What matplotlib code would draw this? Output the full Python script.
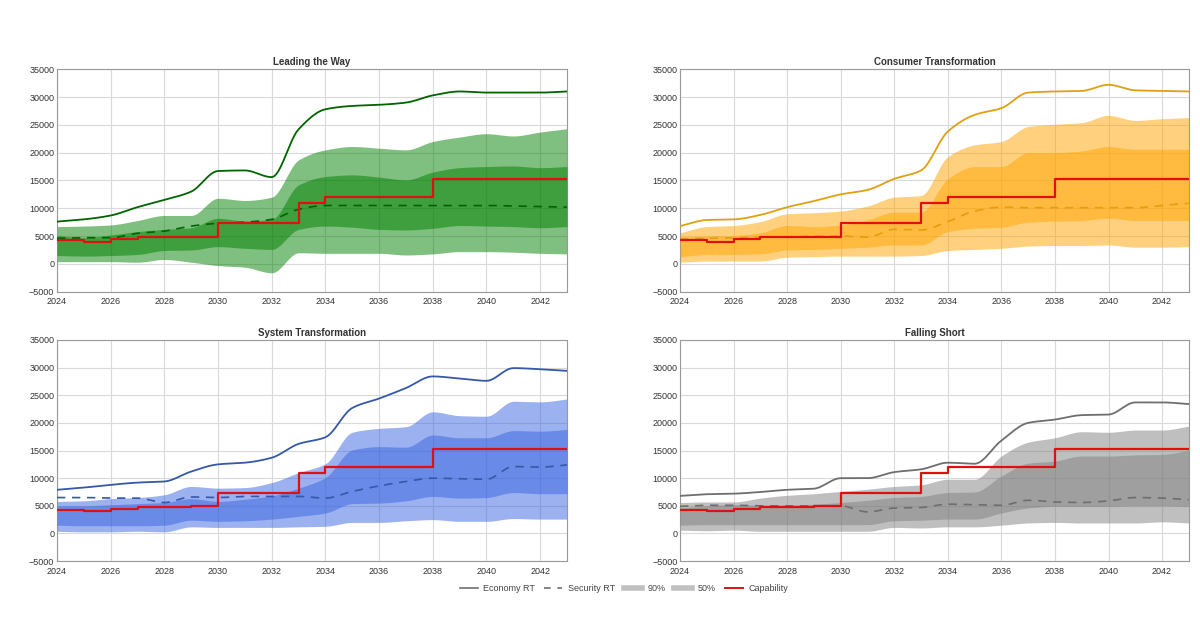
import numpy as np
import matplotlib
matplotlib.use("Agg")
import matplotlib.pyplot as plt
from matplotlib.lines import Line2D

plt.rcParams['font.family'] = ['Liberation Sans', 'DejaVu Sans']

years = list(range(2024, 2044))
capability = [4300, 4000, 4400, 4800, 4800, 4900, 7300, 7300, 7300, 11000,
              12000, 12000, 12000, 12000, 15300, 15300, 15300, 15300, 15300, 15300]

# Leading the Way
ltw_econ = [7600, 8000, 8700, 10200, 11500, 13000, 16700, 16800, 15600, 24200,
            27800, 28400, 28600, 29000, 30300, 31000, 30800, 30800, 30800, 31000]
ltw_sec = [4600, 4700, 4700, 5500, 5900, 6800, 7300, 7500, 8000, 9800,
           10500, 10500, 10500, 10500, 10500, 10500, 10500, 10400, 10300, 10200]
ltw_90_hi = [6700, 6800, 7000, 7800, 8700, 8700, 11800, 11400, 12000, 18700,
             20500, 21100, 20800, 20500, 22000, 22800, 23400, 23000, 23700, 24300]
ltw_90_lo = [400, 400, 400, 300, 800, 300, -300, -600, -1600, 2000,
             1900, 1900, 1900, 1600, 1800, 2200, 2200, 2100, 1900, 1800]
ltw_50_hi = [5100, 4700, 5200, 5800, 6200, 6500, 8200, 7700, 8000, 14200,
             15700, 16000, 15600, 15100, 16500, 17300, 17500, 17600, 17300, 17500]
ltw_50_lo = [1500, 1400, 1500, 1700, 2400, 2500, 3100, 2800, 2600, 6200,
             6800, 6600, 6200, 6100, 6400, 6900, 6800, 6700, 6500, 6700]

# Consumer Transformation
ct_econ = [6800, 7900, 8000, 8800, 10200, 11300, 12500, 13300, 15300, 16800,
           23800, 26800, 28000, 30800, 31000, 31100, 32200, 31200, 31100, 31000]
ct_sec = [4500, 4600, 4700, 4800, 4800, 5000, 5000, 4800, 6200, 6100,
          7600, 9500, 10200, 10100, 10100, 10100, 10100, 10100, 10500, 10900]
ct_90_hi = [5600, 6700, 6900, 7600, 9000, 9200, 9500, 10400, 12000, 12300,
            19300, 21400, 22000, 24700, 25100, 25400, 26700, 25800, 26100, 26300]
ct_90_lo = [300, 500, 500, 500, 1200, 1300, 1400, 1400, 1400, 1500,
            2400, 2600, 2800, 3200, 3300, 3300, 3400, 3000, 3000, 3100]
ct_50_hi = [4800, 5000, 5100, 5600, 6900, 6700, 7000, 7900, 9300, 9300,
            15300, 17500, 17500, 20000, 20000, 20300, 21100, 20600, 20600, 20600]
ct_50_lo = [1300, 1700, 1700, 1800, 2500, 2600, 2800, 3000, 3400, 3400,
            5800, 6400, 6600, 7500, 7700, 7800, 8200, 7800, 7800, 7800]

# System Transformation
st_econ = [7900, 8300, 8800, 9200, 9400, 11200, 12500, 12800, 13700, 16200,
           17400, 22700, 24400, 26300, 28400, 28000, 27600, 29900, 29700, 29400]
st_sec = [6500, 6500, 6400, 6400, 5600, 6600, 6500, 6700, 6700, 6700,
          6400, 7600, 8600, 9400, 10000, 9900, 9800, 12100, 12000, 12400]
st_90_hi = [5800, 5900, 6300, 6500, 7000, 8500, 8200, 8300, 9200, 11000,
            12600, 18300, 19000, 19300, 22000, 21300, 21200, 23900, 23800, 24300]
st_90_lo = [400, 300, 300, 400, 300, 1200, 1100, 1100, 1100, 1200,
            1300, 2000, 2000, 2300, 2500, 2200, 2200, 2700, 2600, 2600]
st_50_hi = [5000, 5000, 5200, 5400, 5600, 6300, 5800, 6200, 6800, 8200,
            10100, 15100, 15700, 15600, 17800, 17300, 17300, 18600, 18500, 18800]
st_50_lo = [1500, 1400, 1400, 1400, 1500, 2400, 2200, 2300, 2600, 3100,
            3700, 5400, 5500, 5900, 6700, 6400, 6500, 7400, 7200, 7200]

# Falling Short
fs_econ = [6800, 7100, 7200, 7500, 7900, 8100, 10000, 10000, 11100, 11600,
           12800, 12600, 16800, 20000, 20600, 21400, 21500, 23700, 23700, 23400]
fs_sec = [4900, 5100, 5100, 5000, 5000, 5000, 5000, 3900, 4600, 4700,
          5300, 5200, 5100, 6000, 5700, 5600, 5900, 6500, 6400, 6100]
fs_90_hi = [5600, 5700, 5700, 6400, 6900, 7200, 7600, 8000, 8500, 8800,
            9800, 9800, 14000, 16500, 17300, 18400, 18300, 18700, 18700, 19400]
fs_90_lo = [600, 500, 600, 400, 400, 400, 400, 400, 1100, 1000,
            1200, 1200, 1500, 1900, 2000, 1900, 1900, 1900, 2100, 1900]
fs_50_hi = [4600, 5000, 5200, 5100, 5100, 5300, 5600, 6000, 6500, 6700,
            7400, 7500, 10400, 12700, 13100, 14000, 14000, 14200, 14300, 15000]
fs_50_lo = [1500, 1600, 1600, 1600, 1600, 1600, 1600, 1600, 2300, 2400,
            2600, 2600, 3700, 4600, 4900, 4900, 4900, 5000, 5000, 4900]

panels = [
    ("Leading the Way", ltw_econ, ltw_sec, ltw_90_lo, ltw_90_hi, ltw_50_lo, ltw_50_hi,
     "#008000", "#006400"),
    ("Consumer Transformation", ct_econ, ct_sec, ct_90_lo, ct_90_hi, ct_50_lo, ct_50_hi,
     "#ffa500", "#e0a010"),
    ("System Transformation", st_econ, st_sec, st_90_lo, st_90_hi, st_50_lo, st_50_hi,
     "#3a64e0", "#3558a8"),
    ("Falling Short", fs_econ, fs_sec, fs_90_lo, fs_90_hi, fs_50_lo, fs_50_hi,
     "#808080", "#6e6e6e"),
]

ytick_vals = list(range(-5000, 35001, 5000))
ytick_labels = [(f"\u2212{abs(v)}" if v < 0 else f"{v}") for v in ytick_vals]
xtick_vals = list(range(2024, 2043, 2))


def smooth(x, y, n=12):
    """Monotone cubic Hermite rendering of a series (display smoothing)."""
    x = np.asarray(x, float)
    y = np.asarray(y, float)
    h = np.diff(x)
    d = np.diff(y) / h
    m = np.zeros_like(y)
    m[0], m[-1] = d[0], d[-1]
    for i in range(1, len(y) - 1):
        if d[i - 1] * d[i] <= 0:
            m[i] = 0.0
        else:
            m[i] = 2.0 / (1.0 / d[i - 1] + 1.0 / d[i])
    xs, ys = [], []
    for i in range(len(x) - 1):
        t = np.linspace(0, 1, n, endpoint=False)
        h00 = 2 * t**3 - 3 * t**2 + 1
        h10 = t**3 - 2 * t**2 + t
        h01 = -2 * t**3 + 3 * t**2
        h11 = t**3 - t**2
        xs.append(x[i] + t * h[i])
        ys.append(h00 * y[i] + h10 * h[i] * m[i] + h01 * y[i + 1] + h11 * h[i] * m[i + 1])
    xs.append([x[-1]])
    ys.append([y[-1]])
    return np.concatenate(xs), np.concatenate(ys)


fig = plt.figure(figsize=(12, 6.18), dpi=100)
positions = [
    (0.0475, 0.528, 0.425, 0.360),
    (0.5667, 0.528, 0.424, 0.360),
    (0.0475, 0.092, 0.425, 0.358),
    (0.5667, 0.092, 0.424, 0.358),
]

for pos, (title, econ, sec, lo90, hi90, lo50, hi50, base, linec) in zip(positions, panels):
    ax = fig.add_axes(pos)
    xs, a = smooth(years, lo90)
    _, b = smooth(years, hi90)
    ax.fill_between(xs, a, b, color=base, alpha=0.5, linewidth=0, zorder=2)
    _, a = smooth(years, lo50)
    _, b = smooth(years, hi50)
    ax.fill_between(xs, a, b, color=base, alpha=0.5, linewidth=0, zorder=3)
    _, e = smooth(years, econ)
    ax.plot(xs, e, color=linec, lw=1.3, zorder=5)
    _, s = smooth(years, sec)
    ax.plot(xs, s, color=linec, lw=1.2, ls=(0, (5, 4)), zorder=5)
    ax.step(years, capability, where='post', color='#e01010', lw=1.6, zorder=6)

    ax.set_xlim(2024, 2043)
    ax.set_ylim(-5000, 35000)
    ax.set_xticks(xtick_vals)
    ax.set_yticks(ytick_vals)
    ax.set_yticklabels(ytick_labels)
    ax.grid(True, color='#d9d9d9', lw=0.8, zorder=0)
    ax.set_axisbelow(True)
    ax.tick_params(labelsize=6.5, colors='#333333', length=0)
    ax.tick_params(axis='x', pad=4)
    ax.tick_params(axis='y', pad=2)
    for sp in ax.spines.values():
        sp.set_color('#999999')
        sp.set_linewidth(0.8)
    ax.set_title(title, fontsize=7, fontweight='bold', color='#333333', pad=3)

handles = [
    Line2D([], [], color='#707070', lw=1.2),
    Line2D([], [], color='#707070', lw=1.2, ls=(0, (4, 4))),
    Line2D([], [], color='#c0c0c0', lw=4),
    Line2D([], [], color='#c0c0c0', lw=4),
    Line2D([], [], color='#e01010', lw=1.4),
]
labels = ["Economy RT", "Security RT", "90%", "50%", "Capability"]
fig.legend(handles, labels, loc='center', bbox_to_anchor=(0.52, 0.048), ncol=5,
           frameon=False, fontsize=6.5, handlelength=2.0, columnspacing=1.0,
           handletextpad=0.6, labelcolor='#444444')

fig.savefig("out.png", dpi=100)
